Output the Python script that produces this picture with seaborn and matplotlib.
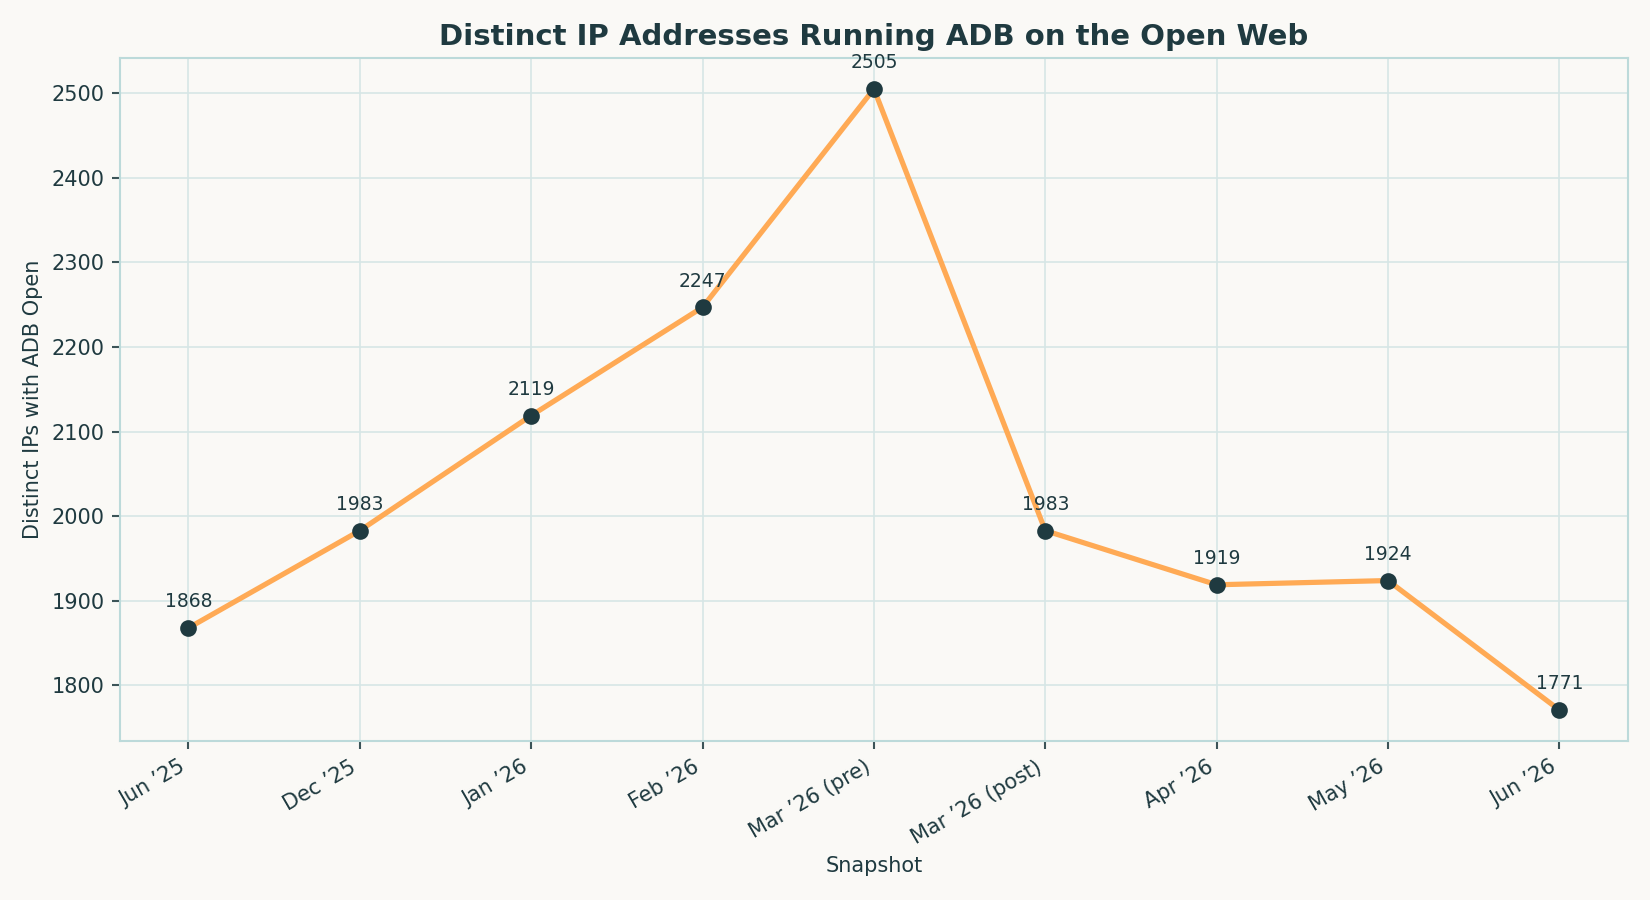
import matplotlib
matplotlib.use("Agg")
import matplotlib.pyplot as plt
import pandas as pd
import seaborn as sns

# Data
snapshots = ["Jun \u201925", "Dec \u201925", "Jan \u201926", "Feb \u201926", "Mar \u201926 (pre)",
             "Mar \u201926 (post)", "Apr \u201926", "May \u201926", "Jun \u201926"]
ip_counts = [1868, 1983, 2119, 2247, 2505, 1983, 1919, 1924, 1771]

bg = "#FAF9F6"
ink = "#1F3A40"
orange = "#FFAA55"
grid_col = "#D6E6E6"
spine_col = "#BCDADA"

sns.set_theme(style="whitegrid")
plt.rcParams["font.family"] = ["DejaVu Sans"]

df = pd.DataFrame({"snapshot": snapshots, "ips": ip_counts})
df["pos"] = range(len(df))

fig, ax = plt.subplots(figsize=(11, 6), dpi=150)
fig.patch.set_facecolor(bg)
ax.set_facecolor(bg)

sns.lineplot(data=df, x="pos", y="ips", ax=ax, color=orange, linewidth=2.5, zorder=2)
ax.plot(df["pos"], df["ips"], linestyle="none", marker="o", markersize=7,
        color=ink, zorder=3)

for x, y in zip(df["pos"], df["ips"]):
    ax.annotate(str(y), (x, y), textcoords="offset points", xytext=(0, 8),
                ha="center", va="bottom", fontsize=9, color=ink)

ax.set_xticks(df["pos"])
ax.set_xticklabels(snapshots, rotation=30, ha="right", fontsize=10, color=ink)
ax.tick_params(axis="y", labelsize=10, labelcolor=ink)
ax.tick_params(axis="both", length=4, width=1, color="#3C5458", bottom=True, left=True)

ax.grid(True, color=grid_col, linewidth=0.8)
for s in ax.spines.values():
    s.set_color(spine_col)
    s.set_linewidth(1)

ax.set_title("Distinct IP Addresses Running ADB on the Open Web", fontsize=14,
             fontweight="bold", color=ink)
ax.set_xlabel("Snapshot", fontsize=10, color=ink)
ax.set_ylabel("Distinct IPs with ADB Open", fontsize=10, color=ink)

fig.subplots_adjust(left=0.0727, right=0.9866, top=0.9357, bottom=0.1766)
fig.savefig("out.png", dpi=150, facecolor=bg)
